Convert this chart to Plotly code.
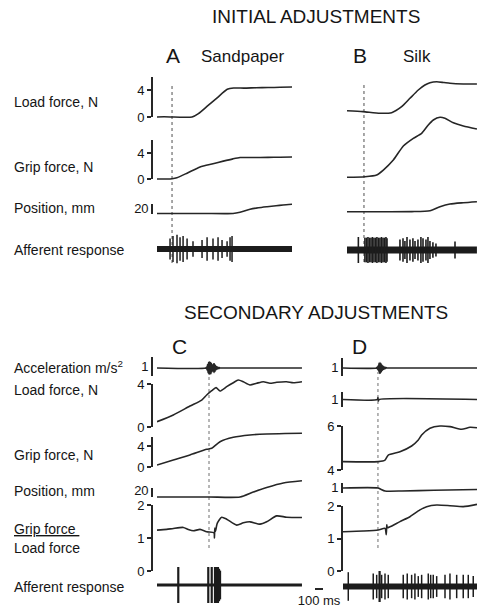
import plotly.graph_objects as go

# ---------------------------------------------------------------- data
# time in ms relative to the event marked by the dotted line in each panel
sweep_A = [-188, 1500]
sweep_B = [-212, 1412]
sweep_C = [-650, 1162]
sweep_D = [-437, 1238]

# A  Sandpaper - initial adjustments
load_A_t = [-188, -100, 0, 100, 250, 330, 440, 560, 690, 770, 900, 1050, 1200, 1350, 1500]
load_A_v = [0.0, 0.03, 0.0, -0.03, 0.0, 0.5, 1.6, 2.8, 4.1, 4.3, 4.28, 4.33, 4.36, 4.4, 4.45]
grip_A_t = [-188, -60, 0, 60, 188, 350, 512, 640, 762, 850, 1000, 1200, 1350, 1500]
grip_A_v = [0.0, 0.0, 0.05, 0.2, 0.9, 1.85, 2.35, 2.75, 3.1, 3.3, 3.3, 3.33, 3.35, 3.38]
pos_A_t = [-188, 0, 400, 762, 850, 975, 1080, 1188, 1300, 1388, 1500]
pos_A_v = [0, 0, 0, 0, 2.5, 8.4, 11.5, 13.6, 15.5, 17, 18.4]
spikes_A_t = [-25, 12, 62, 100, 138, 188, 262, 375, 438, 512, 575, 625, 688, 725, 750]
spikes_A_amp = [0.8, 1.0, 1.1, 0.9, 1.0, 0.8, 0.6, 0.7, 0.9, 0.8, 0.9, 0.7, 0.6, 0.9, 1.0]

# B  Silk - initial adjustments
load_B_t = [-212, -12, 200, 346, 471, 575, 679, 762, 825, 909, 1000, 1075, 1241, 1412]
load_B_v = [0.93, 0.79, 0.55, 0.64, 1.53, 2.77, 4.0, 4.74, 5.08, 5.23, 5.1, 4.99, 4.89, 4.89]
grip_B_t = [-212, 12, 159, 242, 367, 492, 617, 721, 804, 867, 950, 1012, 1117, 1242, 1412]
grip_B_v = [0.26, 0.35, 0.62, 1.38, 2.92, 5.08, 6.26, 7.03, 8.31, 9.08, 9.49, 9.34, 8.66, 8.15, 7.69]
pos_B_t = [-212, 200, 600, 825, 950, 1075, 1241, 1412]
pos_B_v = [3.6, 3.6, 3.8, 5.6, 13.6, 19, 21.6, 23.6]
spikes_B_t = [-70, 12, 31, 50, 69, 88, 106, 125, 144, 162, 181, 200, 219, 238, 256, 275, 288,
              450, 488, 512, 538, 575, 612, 638, 675, 712, 738, 775, 800, 825, 862, 900, 1138]
spikes_B_amp = [1.0, 0.95, 0.95, 1.0, 0.95, 0.95, 1.0, 0.95, 0.95, 1.0, 0.95, 0.95, 1.0, 0.95, 0.95, 1.0, 0.9,
                0.8, 0.9, 0.7, 1.0, 0.8, 0.9, 0.7, 0.8, 1.0, 0.9, 0.8, 1.0, 0.7, 0.6, 0.5, 0.65]

# C  secondary adjustment, load increasing
accel_C_t = [-650, -40, -30, -25, -19, -12, -6, 0, 6, 12, 19, 25, 31, 38, 44, 50, 56, 62, 69,
             75, 81, 88, 94, 100, 106, 112, 119, 125, 131, 138, 150, 1162]
accel_C_v = [0, 0, 0.05, -0.1, 0.18, -0.25, 0.3, -0.33, 0.33, -0.33, 0.3, -0.3, 0.25, -0.2, 0.15,
             -0.15, 0.22, -0.24, 0.22, -0.18, 0.14, -0.1, 0.08, -0.06, 0.05, -0.04, 0.03, -0.03, 0.02, 0, 0, 0]
load_C_t = [-650, -446, -238, -91, -29, 34, 88, 138, 221, 304, 366, 429, 512, 596, 679, 762, 846, 971, 1054, 1162]
load_C_v = [0.49, 1.12, 1.95, 2.51, 2.98, 3.38, 3.66, 3.35, 3.75, 4.12, 4.37, 4.21, 3.91, 4.07, 4.21, 4.07,
            4.16, 4.21, 4.12, 4.21]
grip_C_t = [-650, -446, -238, -29, 34, 138, 304, 512, 721, 950, 1162]
grip_C_v = [0.38, 1.33, 2.29, 3.37, 3.56, 4.82, 5.66, 6.1, 6.29, 6.38, 6.42]
pos_C_t = [-650, 0, 388, 554, 721, 929, 1162]
pos_C_v = [0, 0, 0, 11, 21, 31, 36]
ratio_C_t = [-650, -529, -446, -321, -259, -196, -112, -29, 62, 68, 72, 80, 104, 159, 221, 346, 429,
             512, 638, 721, 846, 971, 1162]
ratio_C_v = [1.24, 1.26, 1.29, 1.32, 1.26, 1.22, 1.26, 1.19, 1.16, 1.0, 1.3, 1.2, 1.45, 1.63, 1.57, 1.39,
             1.46, 1.49, 1.42, 1.49, 1.67, 1.63, 1.62]
spikes_C_t = [-384, -9, 34, 75, 88, 100, 112, 125, 138]
spikes_C_amp = [1.0, 1.0, 1.0, 1.0, 1.0, 1.0, 1.0, 0.9, 0.8]

# D  secondary adjustment, load constant
accel_D_t = [-437, -20, -12, -6, 0, 6, 12, 19, 25, 31, 38, 44, 50, 56, 62, 69, 75, 81, 88, 94, 100, 112, 125, 1238]
accel_D_v = [0, 0, 0.04, -0.06, 0.1, -0.16, 0.25, -0.29, 0.29, -0.27, 0.24, -0.2, 0.16, -0.12, 0.1,
             -0.08, 0.06, -0.05, 0.04, -0.03, 0.02, 0, 0, 0]
load_D_t = [-437, -6, 0, 6, 12, 1238]
load_D_v = [0, 0, 0.13, -0.1, 0, 0]
grip_D_t = [-437, 4, 88, 129, 275, 421, 504, 546, 650, 775, 900, 1046, 1150, 1238]
grip_D_v = [4.38, 4.38, 4.45, 4.68, 4.83, 5.09, 5.36, 5.59, 5.9, 6.0, 5.97, 5.85, 5.94, 5.92]
pos_D_t = [-437, 0, 40, 88, 300, 700, 1238]
pos_D_v = [0, 0, -0.15, -0.3, -0.3, -0.22, -0.15]
ratio_D_t = [-437, -184, 4, 88, 104, 110, 116, 150, 275, 400, 525, 609, 734, 900, 1066, 1238]
ratio_D_v = [1.21, 1.23, 1.26, 1.31, 1.12, 1.42, 1.33, 1.36, 1.52, 1.67, 1.88, 1.98, 2.03, 2.01, 1.98, 2.05]
spikes_D_t = [-371, -59, -16, 16, 25, 46, 88, 129, 316, 366, 421, 462, 504, 546, 629, 659, 691, 734,
              838, 900, 984, 1066, 1129, 1191]
spikes_D_amp = [1.1, 1.0, 0.9, 1.2, 1.2, 0.9, 1.0, 0.9, 0.9, 1.0, 0.9, 1.0, 0.8, 0.9, 1.0, 0.9, 0.9, 0.8,
                0.9, 1.0, 0.9, 0.9, 0.9, 0.8]

event_t = 0
time_bar_ms = 100

top_labels = ["Load force, N", "Grip force, N", "Position, mm", "Afferent response"]
bottom_labels = ["Acceleration m/s<sup>2</sup>", "Load force, N", "Grip force, N", "Position, mm",
                 "<u>Grip force </u>", "Load force", "Afferent response"]

# ---------------------------------------------------------------- geometry / style
W, H = 477, 612
MS_PX = 0.08            # 100 ms -> 8 px
INK = "#262626"
TXT = "#151515"
FONT = "Liberation Sans, Arial, Helvetica, sans-serif"


def fx(px):
    return px / W


def fy(py):
    return 1 - py / H


def calib(v_a, p_a, v_b, p_b):
    k = (v_b - v_a) / (p_b - p_a)
    return (lambda p: v_a + (p - p_a) * k), (lambda v: p_a + (v - v_a) / k)


fig = go.Figure()
axes = {}
counter = {"x": 0, "y": 0}


def add_axis(kind, **props):
    counter[kind] += 1
    n = counter[kind]
    axes[f"{kind}axis" + ("" if n == 1 else str(n))] = props
    return kind + ("" if n == 1 else str(n))


panels = {"A": (157, sweep_A), "B": (347, sweep_B), "C": (157, sweep_C), "D": (343, sweep_D)}
xref = {}
for name, (left, sweep) in panels.items():
    right = left + (sweep[1] - sweep[0]) * MS_PX
    xref[name] = add_axis("x", domain=[fx(left), min(fx(right), 1.0)], range=sweep,
                          visible=False, anchor="free", position=0, fixedrange=True)


def spike_path(times, amps):
    xs, ys = [], []
    for t, a in zip(times, amps):
        xs += [t, t, None]
        ys += [a, -a, None]
    return xs, ys


def row(panel, cal, band, lines=(), afferent=None, bar=None):
    to_val, to_px = calib(*cal)
    xr = xref[panel]
    top, bot = band
    yr = add_axis("y", domain=[fy(bot), fy(top)], range=[to_val(bot), to_val(top)],
                  visible=False, anchor=xr, fixedrange=True)
    for t, v in lines:
        fig.add_trace(go.Scatter(x=t, y=v, xaxis=xr, yaxis=yr, mode="lines",
                                 line=dict(color=INK, width=1.6, shape="spline", smoothing=0.6),
                                 hoverinfo="skip", showlegend=False))
    if afferent is not None:
        times, amps, band_w, spike_w = afferent
        sweep = panels[panel][1]
        fig.add_trace(go.Scatter(x=sweep, y=[0, 0], xaxis=xr, yaxis=yr, mode="lines",
                                 line=dict(color="#1c1c1c", width=band_w),
                                 hoverinfo="skip", showlegend=False))
        sx, sy = spike_path(times, amps)
        fig.add_trace(go.Scatter(x=sx, y=sy, xaxis=xr, yaxis=yr, mode="lines",
                                 line=dict(color="#1c1c1c", width=spike_w),
                                 hoverinfo="skip", showlegend=False))
    if bar is not None:
        bx, lo, hi, vals, texts, marks = bar
        sy_ = add_axis("y", domain=[fy(to_px(lo)), fy(to_px(hi))], range=[lo, hi],
                       anchor="free", position=fx(bx), side="left",
                       showline=True, linecolor=INK, linewidth=1.6,
                       ticks="outside" if marks else "", ticklen=4, tickwidth=1.5, tickcolor=INK,
                       tickvals=vals, ticktext=texts,
                       tickfont=dict(family=FONT, size=13, color=TXT),
                       showgrid=False, zeroline=False, fixedrange=True)
        fig.add_trace(go.Scatter(x=[None], y=[None], xaxis=xr, yaxis=sy_,
                                 hoverinfo="skip", showlegend=False))
    return yr


# ---- A
row("A", (0, 117, 4, 90), (70, 124), [(load_A_t, load_A_v)],
    bar=(152, 0, 5.9, [0, 4], ["0", "4"], True))
row("A", (0, 179, 4, 153), (108, 186), [(grip_A_t, grip_A_v)],
    bar=(152, 0, 6, [0, 4], ["0", "4"], True))
row("A", (0, 213.5, 20, 203.5), (192, 220), [(pos_A_t, pos_A_v)],
    bar=(152, 0, 20, [10], ["20"], False))
row("A", (0, 249, 1, 236), (228, 270), afferent=(spikes_A_t, spikes_A_amp, 6, 1.5))

# ---- B
row("B", (0, 117, 4, 90), (70, 124), [(load_B_t, load_B_v)])
row("B", (0, 179, 4, 153), (108, 186), [(grip_B_t, grip_B_v)])
row("B", (0, 213.5, 20, 203.5), (192, 220), [(pos_B_t, pos_B_v)])
row("B", (0, 250, 1, 237), (228, 270), afferent=(spikes_B_t, spikes_B_amp, 7, 1.6))

# ---- C
row("C", (0, 368, 1, 349), (352, 382), [(accel_C_t, accel_C_v)],
    bar=(152, -0.42, 0.58, [0.08], ["1"], False))
row("C", (0, 427, 4, 384), (372, 432), [(load_C_t, load_C_v)],
    bar=(152, 0, 4, [0, 4], ["0", "4"], True))
row("C", (0, 467, 4, 446), (426, 474), [(grip_C_t, grip_C_v)],
    bar=(152, 0, 5.7, [0, 4], ["0", "4"], True))
row("C", (0, 497, 20, 488), (474, 502), [(pos_C_t, pos_C_v)],
    bar=(152, 0, 20, [15], ["20"], False))
row("C", (0, 571, 2, 505), (498, 576), [(ratio_C_t, ratio_C_v)],
    bar=(152, 0, 2, [0, 1, 2], ["0", "1", "2"], True))
row("C", (0, 585, 1, 567), (560, 612), afferent=(spikes_C_t, spikes_C_amp, 3, 2.2))

# ---- D
row("D", (0, 368, 1, 349), (352, 382), [(accel_D_t, accel_D_v)],
    bar=(342, -0.42, 0.53, [0.05], ["1"], False))
row("D", (0, 399.5, 1, 384.5), (388, 412), [(load_D_t, load_D_v)],
    bar=(342, -0.5, 0.5, [0], ["1"], False))
row("D", (4, 470, 6, 426), (418, 476), [(grip_D_t, grip_D_v)],
    bar=(342, 4, 6, [4, 6], ["4", "6"], True))
row("D", (0, 488, 1, 478), (478, 498), [(pos_D_t, pos_D_v)],
    bar=(342, -0.5, 0.5, [0.1], ["1"], False))
row("D", (0, 571, 2, 506), (498, 576), [(ratio_D_t, ratio_D_v)],
    bar=(342, 0, 2, [0, 1, 2], ["0", "1", "2"], True))
aff_D_axis = row("D", (0, 586.5, 1, 573.5), (560, 612), afferent=(spikes_D_t, spikes_D_amp, 6, 1.5))

# ---- 100 ms time calibration
tb = add_axis("x", domain=[fx(315), fx(315 + time_bar_ms * MS_PX)], range=[0, time_bar_ms],
              anchor="free", position=fy(589), side="bottom",
              showline=True, linecolor=INK, linewidth=1.5, ticks="",
              tickvals=[time_bar_ms / 2], ticktext=[f"{time_bar_ms} ms"],
              tickfont=dict(family=FONT, size=13, color=TXT),
              showgrid=False, zeroline=False, fixedrange=True)
fig.add_trace(go.Scatter(x=[None], y=[None], xaxis=tb, yaxis=aff_D_axis,
                         hoverinfo="skip", showlegend=False))

# ---- event markers (dotted verticals)
shapes = []
for name, y_top, y_bot, col, w in [("A", 83, 263, "#8a8a8a", 1.5), ("B", 82, 262, "#8a8a8a", 1.5),
                                   ("C", 373, 548, "#6f6f6f", 1.0), ("D", 372, 548, "#6f6f6f", 1.0)]:
    shapes.append(dict(type="line", xref=xref[name], yref="paper", x0=event_t, x1=event_t,
                       y0=fy(y_bot), y1=fy(y_top), line=dict(color=col, width=w, dash="dot"),
                       layer="below"))

# ---- text
ann = []


def text(s, x, y, size, anchor="center"):
    ann.append(dict(text=s, x=fx(x), y=fy(y), xref="paper", yref="paper", showarrow=False,
                    xanchor=anchor, yanchor="middle", font=dict(family=FONT, size=size, color=TXT)))


text("INITIAL ADJUSTMENTS", 316, 16, 19)
text("SECONDARY ADJUSTMENTS", 316, 312, 19)
text("A", 172.5, 55, 21)
text("Sandpaper", 242.5, 56, 17)
text("B", 359.5, 55, 21)
text("Silk", 416.5, 56, 17)
text("C", 179.5, 346, 21)
text("D", 359.5, 346, 21)
for s, y in zip(top_labels, [102, 167, 208, 250]):
    text(s, 12, y, 14, "left")
for s, y in zip(bottom_labels, [367, 390, 455, 491, 529, 548, 587]):
    text(s, 12, y, 14, "left")

fig.update_layout(width=W, height=H,
                  margin=dict(l=0, r=0, t=0, b=0, pad=0, autoexpand=False),
                  paper_bgcolor="white", plot_bgcolor="rgba(0,0,0,0)",
                  showlegend=False, shapes=shapes, annotations=ann, **axes)

fig.write_html("out.html")
